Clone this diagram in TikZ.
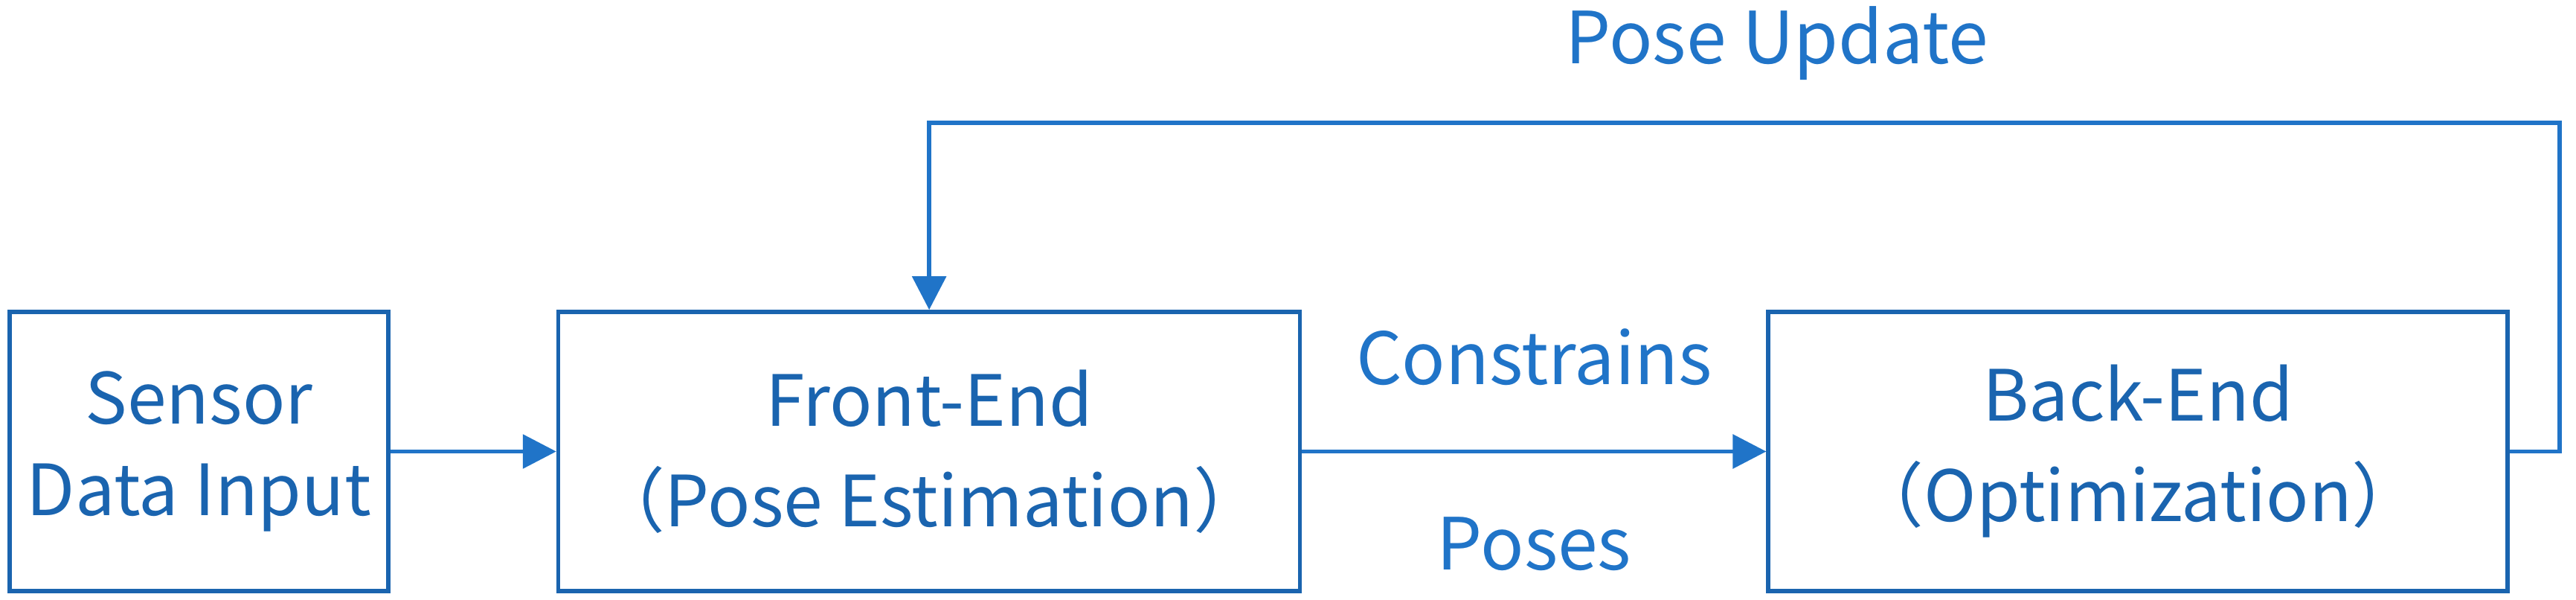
\documentclass[tikz,border=0pt]{standalone}
\usepackage{fontspec}
\setmainfont{Noto Sans CJK SC}
\usepackage{tikz}
\usetikzlibrary{positioning, arrows.meta}

\definecolor{boxblue}{RGB}{26,100,175}
\definecolor{lineblue}{RGB}{32,116,200}

\tikzset{
	block/.style={draw=boxblue, line width=1.6pt, text=boxblue, minimum height=37.5mm, align=center, font=\fontsize{27}{37}\selectfont},
	flow/.style={draw=lineblue, line width=1.7pt, -{Triangle[length=4.5mm, width=4.5mm]}},
	lbl/.style={text=lineblue, anchor=base, font=\fontsize{27.5}{36}\selectfont}
}

\begin{document}
\begin{tikzpicture}
		\useasboundingbox (0,0) rectangle (346.3mm,-80.6mm);
		\node[block, minimum width=50.9mm] (sensor) at (26.75mm,-60.65mm) {\raisebox{-2.9mm}{\shortstack{Sensor\\[4.2mm]Data Input}}};
		\node[block, minimum width=99.7mm, right=22.3mm of sensor] (front) {\raisebox{-2.9mm}{\shortstack{Front-End\\[4.2mm]（Pose Estimation）}}};
		\node[block, minimum width=99.4mm, right=62.4mm of front] (back) {\raisebox{-2.9mm}{\shortstack{Back-End\\[4.2mm]（Optimization）}}};

		\coordinate[above=25.1mm of front.north] (fbtop);
		\coordinate (fbright) at ([xshift=6.7mm]back.east |- fbtop);

		\draw[flow] (sensor) -- (front);
		\draw[flow] (front) -- node[lbl, yshift=9mm] (constr) {Constrains} node[lbl, yshift=-15.9mm] (poses) {Poses} (back);
		\draw[flow] (back.east) -| (fbright) -- node[lbl, pos=0.48, yshift=8mm] (update) {Pose Update} (fbtop) -- (front.north);
	\end{tikzpicture}
\end{document}
